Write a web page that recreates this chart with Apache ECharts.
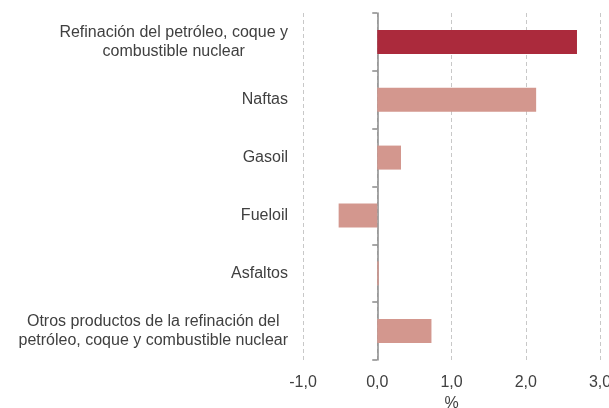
<!DOCTYPE html>
<html>
<head>
<meta charset="utf-8">
<script src="https://cdn.jsdelivr.net/npm/echarts@6/dist/echarts.min.js"></script>
<style>
  html, body { margin: 0; padding: 0; background: #fff; }
  #chart { width: 609px; height: 408px; }
</style>
</head>
<body>
<div id="chart"></div>
<script>
// categories, top to bottom
const categories = [
  "Refinación del petróleo, coque y\ncombustible nuclear",
  "Naftas",
  "Gasoil",
  "Fueloil",
  "Asfaltos",
  "Otros productos de la refinación del\npetróleo, coque y combustible nuclear",
];
const values = [2.69, 2.14, 0.32, -0.52, 0.02, 0.73];
const barColors = ["#ab2a3c", "#d3978e", "#d3978e", "#d3978e", "#d3978e", "#d3978e"];
const xTicks = [-1, 0, 1, 2, 3];

const chart = echarts.init(document.getElementById("chart"));
const font = "'Liberation Sans', Arial, sans-serif";

const option = {
  animation: false,
  grid: {
    left: 303,
    right: 9,
    top: 13,
    bottom: 48,
    outerBoundsMode: "none",
  },
  xAxis: {
    type: "value",
    min: xTicks[0],
    max: xTicks[xTicks.length - 1],
    interval: 1,
    name: "%",
    nameLocation: "middle",
    nameGap: 33,
    nameTextStyle: { color: "#404040", fontSize: 16, fontFamily: font },
    axisLine: { show: false },
    axisTick: { show: false },
    axisLabel: {
      color: "#404040",
      fontSize: 16,
      fontFamily: font,
      margin: 15,
      formatter: (v) => v.toFixed(1).replace(".", ","),
    },
    splitLine: {
      show: true,
      lineStyle: { color: "#c8c8c8", type: [4, 3], width: 1 },
    },
  },
  yAxis: {
    type: "category",
    inverse: true,
    data: categories,
    axisLine: {
      show: true,
      onZero: true,
      lineStyle: { color: "#8a8a8a", width: 1.5 },
    },
    axisTick: {
      show: true,
      length: 5,
      lineStyle: { color: "#8a8a8a", width: 1.5 },
    },
    axisLabel: {
      color: "#404040",
      fontSize: 16,
      fontFamily: font,
      margin: 15,
      lineHeight: 19,
      formatter: (v) => v.split("\n").map((s) => "{c|" + s + "}").join("\n"),
      rich: {
        c: { align: "center", color: "#404040", fontSize: 16, fontFamily: font, lineHeight: 19 },
      },
    },
  },
  series: [
    {
      type: "bar",
      barWidth: 24,
      data: values.map((v, i) => ({ value: v, itemStyle: { color: barColors[i] } })),
    },
  ],
};
chart.setOption(option);
</script>
</body>
</html>
